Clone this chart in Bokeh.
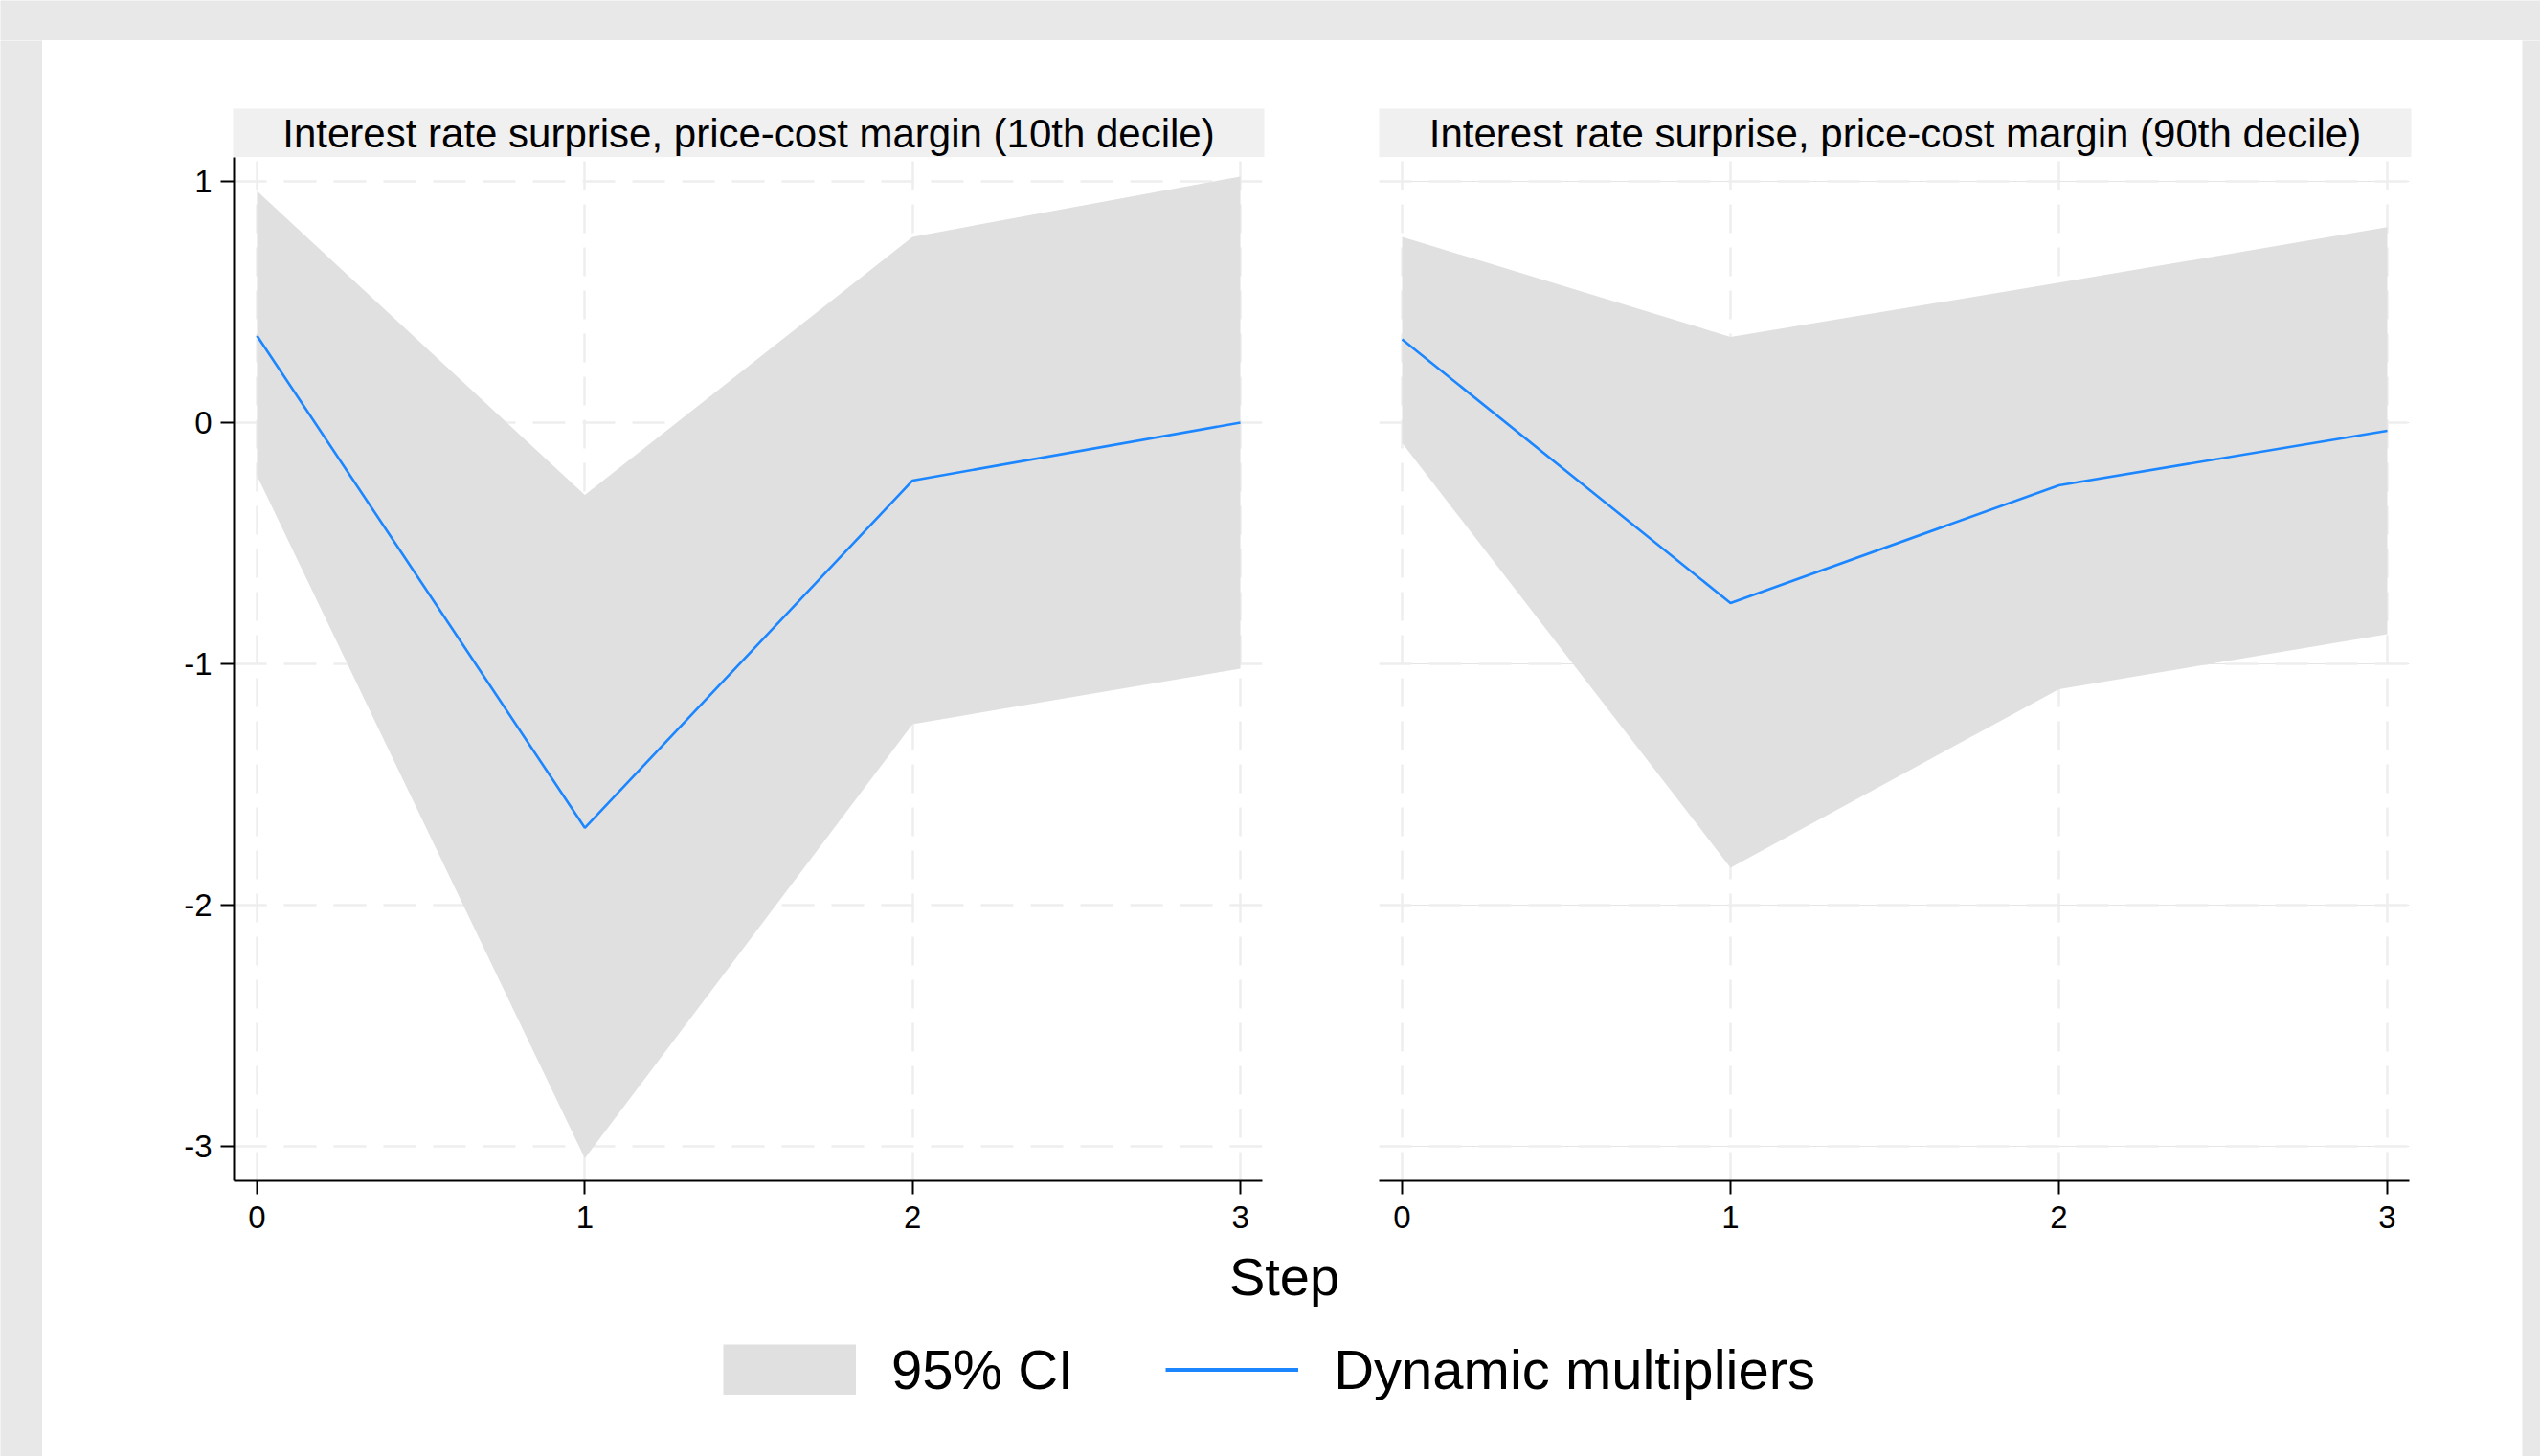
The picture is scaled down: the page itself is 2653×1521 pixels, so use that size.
from bokeh.plotting import figure
from bokeh.models import Range1d, FixedTicker, Label, Legend, LegendItem, Grid, PrintfTickFormatter
from bokeh.layouts import row, column
from bokeh.embed import file_html
from bokeh.resources import INLINE

# ---------------- data ----------------
steps = [0, 1, 2, 3]
x_ticks = [0, 1, 2, 3]
y_ticks = [-3, -2, -1, 0, 1]
panel_titles = [
    "Interest rate surprise, price-cost margin (10th decile)",
    "Interest rate surprise, price-cost margin (90th decile)",
]
p10_irf = [0.36, -1.68, -0.24, 0.00]
p10_upper = [0.96, -0.30, 0.77, 1.02]
p10_lower = [-0.22, -3.05, -1.25, -1.02]
p90_irf = [0.345, -0.748, -0.26, -0.034]
p90_upper = [0.77, 0.355, 0.58, 0.81]
p90_lower = [-0.085, -1.845, -1.105, -0.877]
x_title = "Step"
legend_labels = ["95% CI", "Dynamic multipliers"]

# ---------------- style ----------------
FONT = "Liberation Sans"
CI_COLOR = "#e0e0e0"
LINE_COLOR = "#1c86ff"
GRID_COLOR = "#eeeeee"
TITLE_BG = "#f0f0f0"
OUTER_BG = "#e8e8e8"

x_rng = Range1d(-0.07, 3.067)
y_rng = Range1d(-3.143, 1.099)

PANEL_H = 1133
BOTTOM_H = 1521 - 42 - 122 - PANEL_H   # 224


def no_grid(f):
    for g in list(f.xgrid) + list(f.ygrid):
        g.visible = False


def make_strip(width, height):
    s = figure(width=width, height=height, x_range=Range1d(0, 1), y_range=Range1d(0, 1),
               x_axis_location=None, y_axis_location=None,
               output_backend="svg", toolbar_location=None, min_border=0)
    s.outline_line_color = None
    s.background_fill_color = OUTER_BG
    s.border_fill_color = OUTER_BG
    no_grid(s)
    return s


def make_title(width, bl, br, text):
    t = figure(width=width, height=122, x_range=Range1d(0, 1), y_range=Range1d(0, 1),
               x_axis_location=None, y_axis_location=None,
               output_backend="svg", toolbar_location=None,
               min_border_left=bl, min_border_right=br, min_border_top=71, min_border_bottom=0)
    t.outline_line_color = None
    t.background_fill_color = TITLE_BG
    t.border_fill_color = "white"
    no_grid(t)
    t.add_layout(Label(x=0.5, y=0.5, text=text, text_align="center", text_baseline="middle",
                       text_font=FONT, text_font_size="42px", text_color="black"))
    return t


def style_axis(ax, standoff):
    ax.formatter = PrintfTickFormatter(format="%d")
    ax.axis_line_color = "black"
    ax.axis_line_width = 2
    ax.major_tick_line_color = "black"
    ax.major_tick_line_width = 2
    ax.major_tick_out = 14
    ax.major_tick_in = 0
    ax.minor_tick_out = 0
    ax.minor_tick_in = 0
    ax.major_label_text_font = FONT
    ax.major_label_text_font_size = "33px"
    ax.major_label_text_color = "black"
    ax.major_label_standoff = standoff


def make_panel(width, bl, br, show_y, irf, lo, hi):
    p = figure(width=width, height=PANEL_H, x_range=x_rng, y_range=y_rng,
               output_backend="svg", toolbar_location=None,
               min_border_left=bl, min_border_right=br, min_border_top=0,
               min_border_bottom=PANEL_H - 1069,
               y_axis_location="left" if show_y else None)
    p.outline_line_color = None
    p.background_fill_color = "white"
    p.border_fill_color = "white"

    p.varea(x=steps, y1=lo, y2=hi, fill_color=CI_COLOR, fill_alpha=1.0)
    p.line(x=steps, y=irf, line_color=LINE_COLOR, line_width=2.6)

    xa = p.xaxis[0]
    xa.ticker = FixedTicker(ticks=x_ticks)
    style_axis(xa, 12)

    vgrid = p.xgrid[0]
    vgrid.ticker = FixedTicker(ticks=x_ticks)

    if show_y:
        ya = p.yaxis[0]
        ya.ticker = FixedTicker(ticks=y_ticks)
        style_axis(ya, 9)
        ya.major_label_orientation = "horizontal"
        hgrid = p.ygrid[0]
        hgrid.ticker = FixedTicker(ticks=y_ticks)
    else:
        hgrid = Grid(dimension=1, ticker=FixedTicker(ticks=y_ticks))
        p.add_layout(hgrid)

    vgrid.grid_line_color = GRID_COLOR
    vgrid.grid_line_width = 2.5
    vgrid.grid_line_dash = "30 15"
    hgrid.grid_line_color = GRID_COLOR
    hgrid.grid_line_width = 2.5
    hgrid.grid_line_dash = "34 18"
    return p


lt = make_title(1336, 199, 60, panel_titles[0])
rt = make_title(1254, 60, 116, panel_titles[1])
lp = make_panel(1336, 200, 62, True, p10_irf, p10_lower, p10_upper)
rp = make_panel(1254, 60, 118, False, p90_irf, p90_lower, p90_upper)

# bottom strip: x title + legend
BW, BH = 2590, BOTTOM_H
b = figure(width=BW, height=BH, x_range=Range1d(0, BW), y_range=Range1d(0, BH),
           x_axis_location=None, y_axis_location=None,
           output_backend="svg", toolbar_location=None, min_border=0)
b.outline_line_color = None
b.background_fill_color = "white"
b.border_fill_color = "white"
no_grid(b)
b.add_layout(Label(x=1297, y=BH - 36, text=x_title, text_align="center", text_baseline="middle",
                   text_font=FONT, text_font_size="56px", text_color="black"))

# legend renderers live on an off-screen range so only their legend glyphs show
b.extra_x_ranges = {"off": Range1d(1000, 1001)}
r_ci = b.varea(x=steps, y1=p10_lower, y2=p10_upper, fill_color=CI_COLOR, fill_alpha=1.0,
               x_range_name="off")
r_ci_key = b.line(x=steps, y=p10_upper, line_color=CI_COLOR, line_width=53, line_cap="butt",
                  x_range_name="off")
r_ln = b.line(x=steps, y=p10_irf, line_color=LINE_COLOR, line_width=4, x_range_name="off")
legend = Legend(items=[LegendItem(label=legend_labels[0], renderers=[r_ci, r_ci_key]),
                       LegendItem(label=legend_labels[1], renderers=[r_ln])],
                orientation="horizontal", location=(711, 57),
                glyph_width=139, glyph_height=53, label_height=53,
                label_standoff=37, spacing=96, padding=0, margin=0,
                label_text_font=FONT, label_text_font_size="58px", label_text_color="black",
                border_line_color=None, background_fill_alpha=0.0)
b.add_layout(legend, "center")

white_block = column(row(lt, rt), row(lp, rp), b)
layout = column(
    make_strip(2653, 42),
    row(make_strip(44, 1479), white_block, make_strip(19, 1479)),
)

html = file_html(layout, INLINE, title="Dynamic multipliers")
open("out.html", "w").write(html)
